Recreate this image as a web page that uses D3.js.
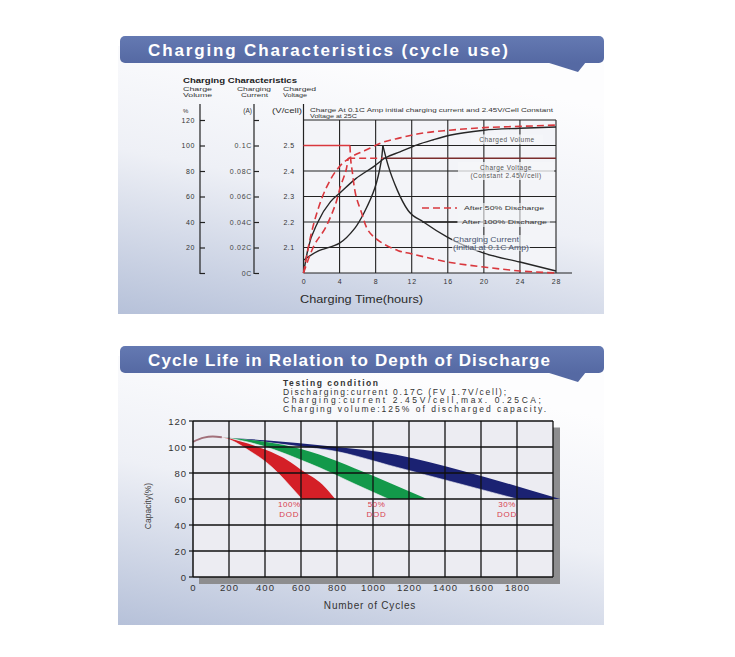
<!DOCTYPE html>
<html><head><meta charset="utf-8">
<script src="https://cdn.jsdelivr.net/npm/d3@7"></script>
<style>body{margin:0;background:#fff}svg{display:block}text{font-family:"Liberation Sans",Arial,sans-serif}</style>
</head><body><svg id="c" width="735" height="657"></svg>
<script>
// ================= DATA: Charging Characteristics =================
const timeTicks = [0, 4, 8, 12, 16, 20, 24, 28];
const volumeTicks = [0, 20, 40, 60, 80, 100, 120];
const volumeLabels = ["", "20", "40", "60", "80", "100", "120"];
const currentTicks = [0, 0.02, 0.04, 0.06, 0.08, 0.1, 0.12];
const currentLabels = ["0C", "0.02C", "0.04C", "0.06C", "0.08C", "0.1C", ""];
const voltageTicks = [2.1, 2.2, 2.3, 2.4, 2.5];
// [hours, %]
const volume100 = [[0,0],[0.5,19],[1.6,40],[3,56],[4,62.5],[5.8,74],[7.9,84],[9,90],[10.7,95],[12.6,100.5],[14.4,104.5],[16.2,108],[20,112],[24,113.5],[28,114.5]];
const volume50 = [[0,0],[0.8,29],[1.9,56],[3.05,74],[4.05,84],[5.3,91],[6.8,96],[8.6,102],[10.7,106],[12.6,109],[16.2,112],[20,114],[24,115],[28,116]];
// [hours, V/cell]
const voltage100 = [[0,2.05],[1.6,2.086],[4,2.117],[5.7,2.176],[6.8,2.242],[7.9,2.332],[8.6,2.435],[8.8,2.5]];
const voltage50 = [[0,2.0],[1.2,2.11],[2.4,2.175],[3.5,2.265],[4.15,2.345],[4.7,2.4],[4.95,2.45]];
const voltage50Const = [[4.95,2.45],[8.8,2.45]];
const voltageConst = [[8.8,2.45],[28,2.45]];
// [hours, C]
const current50Const = [[0,0.1],[5.15,0.1]];
const current50 = [[5.15,0.1],[5.25,0.088],[5.4,0.08],[5.8,0.061],[6.4,0.048],[7.2,0.033],[8.4,0.025],[10.5,0.0175],[12,0.015],[16,0.0086],[20,0.0047],[24,0.0016],[28,0]];
const current100 = [[8.8,0.1],[9.4,0.084],[10.4,0.065],[11.6,0.049],[13.3,0.04],[16,0.028],[20,0.0156],[24,0.0086],[28,0.0016]];

// ================= DATA: Cycle Life =================
const cycleTicks = [0, 200, 400, 600, 800, 1000, 1200, 1400, 1600, 1800];
const capacityTicks = [0, 20, 40, 60, 80, 100, 120];
const dodLabels = [["100%", 535], ["50%", 1020], ["30%", 1745]];
const endOfLife = 60;
// [cycles, capacity %]
const startCurve = [[0,104],[60,107.2],[110,108],[160,107.5]];
const dod100Upper = [[0,104],[60,107.2],[110,108],[160,107.5],[260,104.5],[400,98],[540,88.5],[600,82.5],[720,71],[790,60]];
const dod100Lower = [[0,104],[60,107.2],[110,108],[160,107.5],[210,105.3],[320,96.5],[400,89],[480,79],[540,70],[605,60]];
const dod50Upper = [[0,104],[60,107.2],[110,108],[160,107.5],[400,104],[600,98.5],[705,94],[900,83.5],[1100,72],[1300,60]];
const dod50Lower = [[0,104],[60,107.2],[110,108],[160,107.5],[300,104],[450,98],[600,90],[705,84],[900,71.5],[1085,60]];
const dod30Upper = [[0,104],[60,107.2],[110,108],[160,107.5],[400,105.2],[760,100.5],[1130,94],[1500,81.5],[1870,67],[2040,60]];
const dod30Lower = [[0,104],[60,107.2],[110,108],[160,107.5],[400,103.8],[600,100.2],[760,97.5],[1130,84.5],[1500,71],[1800,60]];

// ================= DRAWING =================
const svg = d3.select("#c");
const defs = svg.append("defs");
const g1 = defs.append("linearGradient").attr("id","panel").attr("x1","0.35").attr("y1","0").attr("x2","0").attr("y2","1");
g1.append("stop").attr("offset","0").attr("stop-color","#fdfdfe");
g1.append("stop").attr("offset","0.45").attr("stop-color","#eef0f6");
g1.append("stop").attr("offset","1").attr("stop-color","#b6c1d9");
const g2 = defs.append("linearGradient").attr("id","hdr").attr("x1","0").attr("y1","0").attr("x2","0").attr("y2","1");
g2.append("stop").attr("offset","0").attr("stop-color","#6479b2");
g2.append("stop").attr("offset","1").attr("stop-color","#5569a3");

function panel(y0, y1, title, titleLen) {
  svg.append("rect").attr("x",118).attr("y",y0+10).attr("width",486).attr("height",y1-y0-10).attr("fill","url(#panel)");
  svg.append("path").attr("d",`M546,${y0+26} L586,${y0+26} L578,${y0+36} Z`).attr("fill","#5569a3");
  svg.append("rect").attr("x",120).attr("y",y0).attr("width",484).attr("height",27).attr("rx",5).attr("fill","url(#hdr)");
  svg.append("text").attr("x",148).attr("y",y0+19.5).attr("fill","#fff").attr("font-weight","bold")
    .attr("font-size",17).attr("textLength",titleLen).attr("lengthAdjust","spacing").text(title);
}
panel(36, 314, "Charging Characteristics (cycle use)", 360);
panel(346, 625, "Cycle Life in Relation to Depth of Discharge", 402);

// ---------- Top chart ----------
const xT = d3.scaleLinear().domain([0,28]).range([303.5,556]);
const yVol = d3.scaleLinear().domain([0,120]).range([273,120]);
const yV = d3.scaleLinear().domain([2.0,2.6]).range([273,120]);
const yI = d3.scaleLinear().domain([0,0.12]).range([273,120]);
const topG = svg.append("g");
topG.append("rect").attr("x",xT(0)).attr("y",yV(2.6)).attr("width",xT(28)-xT(0)).attr("height",yV(2.0)-yV(2.6)).attr("fill","#f3f4f8");
timeTicks.slice(1).forEach(t => topG.append("line").attr("x1",xT(t)).attr("x2",xT(t)).attr("y1",yV(2.6)).attr("y2",yV(2.0)).attr("stroke","#222").attr("stroke-width",1.1));
voltageTicks.concat([2.6]).forEach(v => topG.append("line").attr("x1",xT(0)).attr("x2",xT(28)).attr("y1",yV(v)).attr("y2",yV(v)).attr("stroke","#222").attr("stroke-width",1.1));
topG.append("line").attr("x1",xT(0)).attr("x2",xT(0)).attr("y1",104).attr("y2",yV(2.0)).attr("stroke","#222").attr("stroke-width",1.2);
topG.append("line").attr("x1",xT(0)).attr("x2",572).attr("y1",yV(2.0)).attr("y2",yV(2.0)).attr("stroke","#222").attr("stroke-width",1.2);

function lbl(x, y, s, len, opts={}) {
  const t = topG.append("text").attr("x",x).attr("y",y).attr("font-size",opts.size||6.5)
    .attr("fill",opts.fill||"#333").text(s);
  if (opts.anchor) t.attr("text-anchor",opts.anchor);
  if (opts.bold) t.attr("font-weight","bold");
  if (len) t.attr("textLength",len).attr("lengthAdjust","spacingAndGlyphs");
  return t;
}
lbl(183, 82.5, "Charging Characteristics", 114, {size:7.8, bold:true, fill:"#222"});
lbl(183, 91, "Charge", 29, {size:6}); lbl(183, 97, "Volume", 29, {size:6});
lbl(237, 91, "Charging", 34, {size:6}); lbl(241, 97, "Current", 27, {size:6});
lbl(283, 91, "Charged", 33, {size:6}); lbl(283, 97, "Voltage", 24, {size:6});
lbl(183, 112.5, "%", null, {size:6});
lbl(252, 112.5, "(A)", null, {size:6.5, anchor:"end"});
lbl(272, 112.5, "(V/cell)", 30, {size:6.5});
lbl(310, 112, "Charge At 0.1C Amp initial charging current  and 2.45V/Cell Constant", 243, {size:5.3});
lbl(310, 118, "Voltage at 25C", 47, {size:5.3});

const axVol = d3.axisLeft(yVol).tickValues(volumeTicks).tickFormat((d,i)=>volumeLabels[i]).tickSizeInner(-5).tickSizeOuter(0).tickPadding(5);
const gVol = topG.append("g").attr("transform","translate(200,0)").call(axVol);
gVol.select(".domain").remove();
gVol.append("line").attr("x1",0).attr("x2",0).attr("y1",104).attr("y2",274).attr("stroke","#222").attr("stroke-width",1.2);
gVol.selectAll(".tick line").attr("stroke","#222").attr("stroke-width",1.2);
gVol.selectAll("text").attr("font-size",7).attr("fill","#333").attr("letter-spacing",0.6).attr("font-family","Liberation Sans, Arial");
const axCur = d3.axisLeft(yI).tickValues(currentTicks).tickFormat((d,i)=>currentLabels[i]).tickSizeInner(-5).tickSizeOuter(0).tickPadding(2);
const gCur = topG.append("g").attr("transform","translate(254,0)").call(axCur);
gCur.select(".domain").remove();
gCur.append("line").attr("x1",0).attr("x2",0).attr("y1",104).attr("y2",274).attr("stroke","#222").attr("stroke-width",1.2);
gCur.selectAll(".tick line").attr("stroke","#222").attr("stroke-width",1.2);
gCur.selectAll("text").attr("font-size",7).attr("fill","#444").attr("letter-spacing",0.7).attr("font-family","Liberation Sans, Arial");
const axV = d3.axisLeft(yV).tickValues(voltageTicks).tickFormat(d3.format(".1f")).tickSize(0).tickPadding(9);
const gV = topG.append("g").attr("transform",`translate(${xT(0)},0)`).call(axV);
gV.select(".domain").remove();
gV.selectAll("text").attr("font-size",7).attr("fill","#333").attr("letter-spacing",0.4).attr("font-family","Liberation Sans, Arial");
const axT = d3.axisBottom(xT).tickValues(timeTicks).tickSize(0).tickPadding(6);
const gT = topG.append("g").attr("transform",`translate(0,${yV(2.0)})`).call(axT);
gT.select(".domain").remove();
gT.selectAll("text").attr("font-size",7).attr("fill","#333").attr("letter-spacing",0.8).attr("font-family","Liberation Sans, Arial");
lbl(300, 302.5, "Charging Time(hours)", 123, {size:10.5, fill:"#2a2a2a"});

function boxed(cx, cy, lines, w) {
  topG.append("rect").attr("x",cx-w/2).attr("y",cy-5).attr("width",w).attr("height",lines.length*8+2).attr("fill","#f6f7fa").attr("opacity",0.75);
  lines.forEach((s,i)=>lbl(cx, cy+2.5+i*8, s, null, {size:6.5, anchor:"middle", fill:"#555"}).attr("letter-spacing",0.5));
}
boxed(507, 139.5, ["Charged Volume"], 72);
boxed(506, 167, ["Charge Voltage", "(Constant 2.45V/cell)"], 96);

const red = "#d9383e", blk = "#262626";
const lineT = (ys) => d3.line().x(d=>xT(d[0])).y(d=>ys(d[1])).curve(d3.curveMonotoneX);
const lineTS = (ys) => d3.line().x(d=>xT(d[0])).y(d=>ys(d[1])).curve(d3.curveCatmullRom.alpha(0.5));
function draw(data, gen, color, dashed, w) {
  const p = topG.append("path").attr("d",gen(data)).attr("fill","none").attr("stroke",color).attr("stroke-width",w||1.4);
  if (dashed) p.attr("stroke-dasharray","7,4");
  return p;
}
draw(current50Const, lineT(yI), red, false, 1.6);
draw(voltageConst, lineT(yV), "#7a2c2c", false, 1.5);
draw(volume100, lineT(yVol), blk, false, 1.4);
draw(voltage100, lineTS(yV), blk, false, 1.4);
draw(current100, lineT(yI), blk, false, 1.4);
draw(volume50, lineT(yVol), red, true, 1.6);
draw(voltage50, lineTS(yV), red, true, 1.6);
draw(voltage50Const, lineT(yV), red, true, 1.6);
draw(current50, lineTS(yI), red, true, 1.6);

topG.append("rect").attr("x",458).attr("y",203).attr("width",92).attr("height",24).attr("fill","#f4f5f8").attr("opacity",0.6);
topG.append("line").attr("x1",422).attr("x2",457).attr("y1",208).attr("y2",208).attr("stroke",red).attr("stroke-width",1.6).attr("stroke-dasharray","7,4");
topG.append("line").attr("x1",422).attr("x2",457).attr("y1",222).attr("y2",222).attr("stroke",blk).attr("stroke-width",1.4);
lbl(464, 210, "After 50% Discharge", 80, {size:6});
lbl(462, 224, "After 100% Discharge", 85, {size:6});
topG.append("rect").attr("x",452).attr("y",235).attr("width",78).attr("height",16).attr("fill","#f4f5f8").attr("opacity",0.6);
lbl(453, 241.5, "Charging Current", 66, {size:6.5, fill:"#4a5470"});
lbl(453, 249.5, "(Initial at 0.1C Amp)", 76, {size:6.5, fill:"#4a5470"});

// ---------- Bottom chart ----------
const xB = d3.scaleLinear().domain([0,2000]).range([193,553]);
const yB = d3.scaleLinear().domain([0,120]).range([577,421]);
const plotBg = "#ececf2";
const bot = svg.append("g");
bot.append("text").attr("x",283).attr("y",385.5).attr("font-size",8.5).attr("font-weight","bold").attr("fill","#333").attr("textLength",95).attr("lengthAdjust","spacing").text("Testing condition");
[["Discharging:current 0.17C (FV 1.7V/cell);",223,394.5],["Charging:current 2.45V/cell,max. 0.25CA;",258,403],["Charging volume:125% of discharged capacity.",263,411.5]]
  .forEach(d=>bot.append("text").attr("x",283).attr("y",d[2]).attr("font-size",8.5).attr("fill","#333").attr("textLength",d[1]).attr("lengthAdjust","spacing").text(d[0]));
bot.append("rect").attr("x",xB(2000)).attr("y",yB(115)).attr("width",7).attr("height",yB(0)-yB(115)+7).attr("fill","#8d8d8f");
bot.append("rect").attr("x",xB(0)+6).attr("y",yB(0)).attr("width",xB(2000)-xB(0)+1).attr("height",7).attr("fill","#8d8d8f");
bot.append("rect").attr("x",xB(0)).attr("y",yB(120)).attr("width",xB(2000)-xB(0)).attr("height",yB(0)-yB(120)).attr("fill",plotBg);

const edgeArea = d3.area().x(d=>xB(d[0])).y0(yB(endOfLife)).y1(d=>yB(d[1])).curve(d3.curveMonotoneX);
[[dod30Upper,dod30Lower,"#1b2272"],[dod50Upper,dod50Lower,"#13994a"],[dod100Upper,dod100Lower,"#d41f27"]].forEach(b=>{
  bot.append("path").attr("d",edgeArea(b[0])).attr("fill",b[2]);
  bot.append("path").attr("d",edgeArea(b[1])).attr("fill",plotBg).attr("stroke",plotBg).attr("stroke-width",0.6);
});
bot.append("path").attr("d",d3.line().x(d=>xB(d[0])).y(d=>yB(d[1])).curve(d3.curveMonotoneX)(startCurve))
  .attr("fill","none").attr("stroke","#a2707a").attr("stroke-width",2);

cycleTicks.slice(1).concat([2000]).forEach(c=>bot.append("line").attr("x1",xB(c)).attr("x2",xB(c)).attr("y1",yB(120)).attr("y2",yB(0)).attr("stroke","#111").attr("stroke-width",1.3));
capacityTicks.slice(1).forEach(v=>bot.append("line").attr("x1",xB(0)).attr("x2",xB(2000)).attr("y1",yB(v)).attr("y2",yB(v)).attr("stroke","#111").attr("stroke-width",1.3));
bot.append("line").attr("x1",xB(0)).attr("x2",xB(0)).attr("y1",yB(120)).attr("y2",yB(0)).attr("stroke","#111").attr("stroke-width",1.5);
bot.append("line").attr("x1",xB(0)).attr("x2",xB(2000)).attr("y1",yB(0)).attr("y2",yB(0)).attr("stroke","#111").attr("stroke-width",1.5);
capacityTicks.forEach(v=>bot.append("line").attr("x1",xB(0)-4).attr("x2",xB(0)).attr("y1",yB(v)).attr("y2",yB(v)).attr("stroke","#111").attr("stroke-width",1.2));

dodLabels.forEach(d=>{
  bot.append("text").attr("x",xB(d[1])).attr("y",507).attr("text-anchor","middle").attr("font-size",8).attr("letter-spacing",0.5).attr("fill","#d8404f").text(d[0]);
  bot.append("text").attr("x",xB(d[1])).attr("y",516.5).attr("text-anchor","middle").attr("font-size",8).attr("letter-spacing",0.8).attr("fill","#d8404f").text("DOD");
});

const axBx = d3.axisBottom(xB).tickValues(cycleTicks).tickFormat(d3.format("d")).tickSize(0).tickPadding(7);
const gBx = bot.append("g").attr("transform",`translate(0,${yB(0)})`).call(axBx);
gBx.select(".domain").remove();
gBx.selectAll("text").attr("font-size",9.5).attr("fill","#333").attr("letter-spacing",1).attr("font-family","Liberation Sans, Arial");
const axBy = d3.axisLeft(yB).tickValues(capacityTicks).tickSize(0).tickPadding(6);
const gBy = bot.append("g").attr("transform",`translate(${xB(0)},0)`).call(axBy);
gBy.select(".domain").remove();
gBy.selectAll("text").attr("font-size",9.5).attr("fill","#333").attr("letter-spacing",1).attr("font-family","Liberation Sans, Arial");
bot.append("text").attr("x",370).attr("y",609).attr("text-anchor","middle").attr("font-size",10).attr("letter-spacing",0.8).attr("fill","#333").text("Number of Cycles");
bot.append("text").attr("transform","translate(151,506) rotate(-90)").attr("text-anchor","middle").attr("font-size",8.5).attr("fill","#444").text("Capacity(%)");
</script></body></html>
